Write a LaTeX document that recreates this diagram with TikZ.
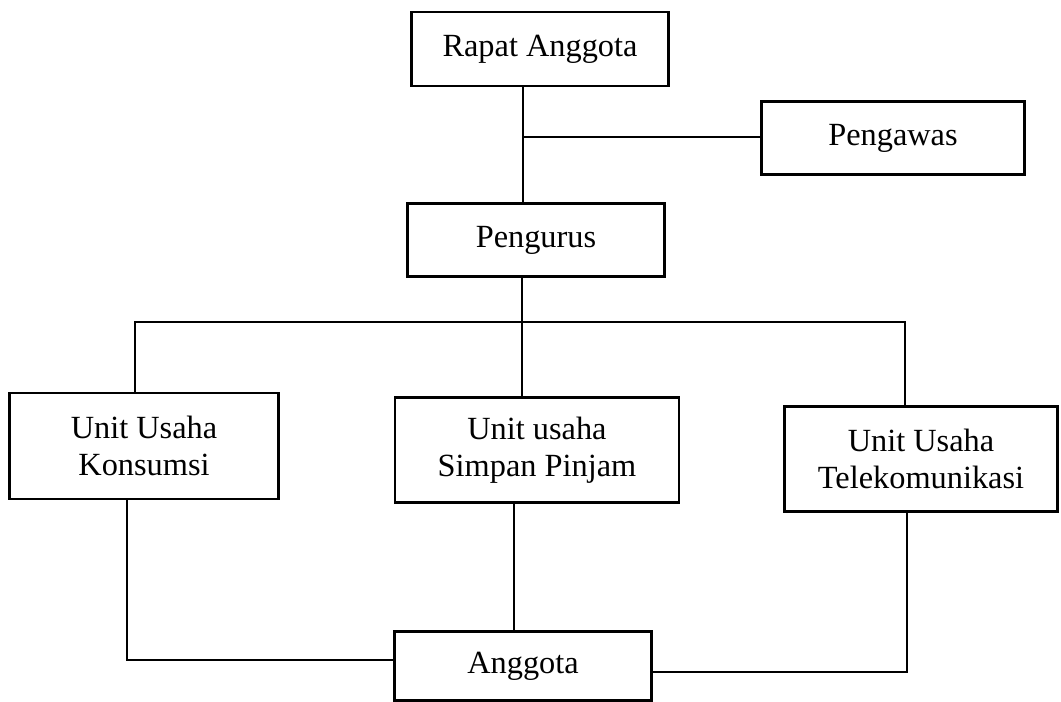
\documentclass[tikz,border=0pt]{standalone}
\usepackage{fontspec}
\setmainfont{Liberation Serif}

\begin{document}
\begin{tikzpicture}[x=0.025cm, y=-0.025cm,
   every node/.style={draw, rectangle, line width=1.8pt, inner sep=0pt,
                      align=center, font=\fontsize{23}{26}\selectfont},
   link/.style={line width=1.8pt}]

\useasboundingbox (0,0) rectangle (1061,702);

\node[minimum width=6.43cm, minimum height=1.85cm] (rapat)    at (540,49)  {Rapat Anggota};
\node[minimum width=6.58cm, minimum height=1.83cm] (pengawas) at (893,138) {Pengawas};
\node[minimum width=6.43cm, minimum height=1.83cm] (pengurus) at (536,240) {Pengurus};
\node[minimum width=6.73cm, minimum height=2.65cm] (konsumsi) at (144,446) {Unit Usaha\\Konsumsi};
\node[minimum width=7.10cm, minimum height=2.63cm] (simpan)   at (537,450) {Unit usaha\\Simpan Pinjam};
\node[minimum width=6.83cm, minimum height=2.63cm] (telekom)  at (921,459) {Unit Usaha\\Telekomunikasi};
\node[minimum width=6.43cm, minimum height=1.73cm] (anggota)  at (523,666) {Anggota};

\coordinate (trunk) at (523,137);
\coordinate (bus)   at (522,322);
\coordinate (busL)  at (135,322);
\coordinate (busR)  at (905,322);
\coordinate (kLow)  at (127,660);
\coordinate (sLine) at (514,570);
\coordinate (tLow)  at (907,672);

% atas
\draw[link] (rapat.south -| trunk) -- (pengurus.north -| trunk);
\draw[link] (trunk) -- (pengawas.west |- trunk);

% unit usaha
\draw[link] (pengurus.south -| bus) -- (simpan.north -| bus);
\draw[link] (konsumsi.north -| busL) -- (busL) -- (busR) -- (telekom.north -| busR);

% ke anggota
\draw[link] (konsumsi.south -| kLow) -- (kLow) -- (anggota.west |- kLow);
\draw[link] (simpan.south -| sLine) -- (anggota.north -| sLine);
\draw[link] (telekom.south -| tLow) -- (tLow) -- (anggota.east |- tLow);

\end{tikzpicture}
\end{document}
